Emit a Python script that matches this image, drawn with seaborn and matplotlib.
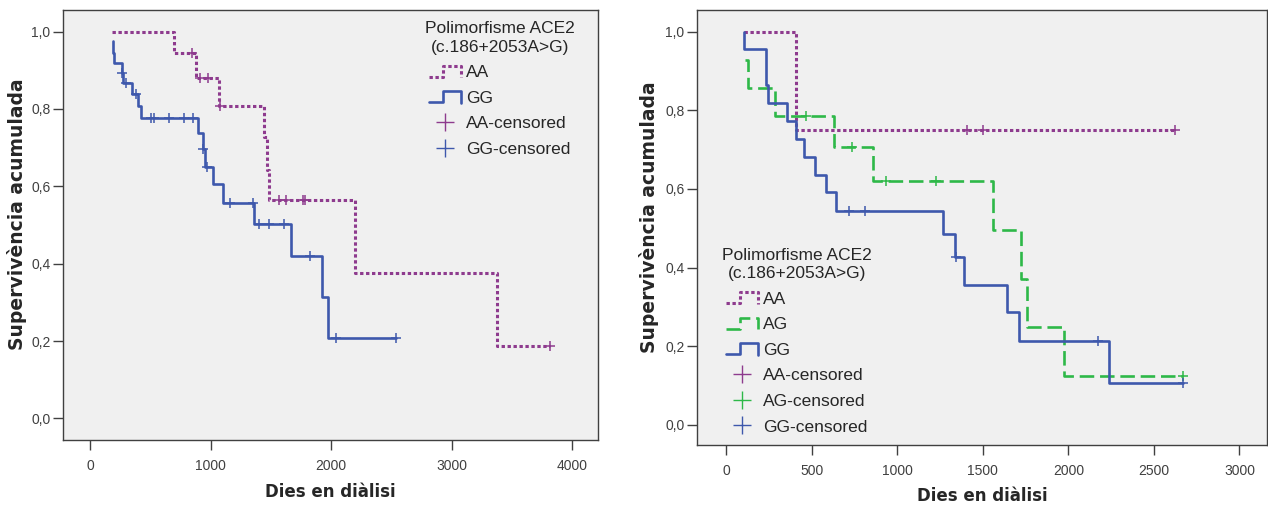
import numpy as np
import pandas as pd
import matplotlib
matplotlib.use("Agg")
import matplotlib.pyplot as plt
from matplotlib.lines import Line2D
from matplotlib.legend_handler import HandlerBase
from matplotlib.ticker import FuncFormatter
import seaborn as sns

# ---------------- data: Kaplan-Meier steps (time of step, survival after it) ----------------
# Left panel: ACE2 genotypes AA vs GG
left_aa_times = [177, 695, 878, 1064, 1438, 1466, 1485, 2194, 3374]
left_aa_surv = [1.0, 0.944, 0.881, 0.808, 0.728, 0.642, 0.565, 0.377, 0.188]
left_aa_censored = [842, 911, 980, 1075, 1568, 1626, 1762, 1784, 3818]

left_gg_times = [185, 190, 199, 260, 268, 343, 398, 418, 897, 934, 950, 1022,
                 1100, 1360, 1668, 1923, 1973]
left_gg_surv = [0.976, 0.946, 0.920, 0.894, 0.868, 0.840, 0.808, 0.777, 0.737,
                0.696, 0.651, 0.605, 0.558, 0.502, 0.420, 0.313, 0.207]
left_gg_censored = [265, 296, 376, 504, 531, 653, 781, 856, 939, 967, 1161,
                    1352, 1396, 1479, 1610, 1820, 2039, 2542]

# Right panel: ACE2 genotypes AA, AG, GG
right_aa_times = [102, 408]
right_aa_surv = [1.0, 0.750]
right_aa_censored = [1410, 1504, 2624]

right_ag_times = [112, 128, 286, 628, 856, 1557, 1722, 1761, 1976]
right_ag_surv = [0.929, 0.857, 0.786, 0.707, 0.619, 0.495, 0.371, 0.248, 0.124]
right_ag_censored = [465, 735, 932, 1228, 2669]

right_gg_times = [102, 105, 233, 243, 356, 408, 455, 521, 585, 642, 1267, 1335,
                  1391, 1644, 1713, 2238]
right_gg_surv = [1.0, 0.955, 0.864, 0.818, 0.773, 0.727, 0.682, 0.636, 0.591,
                 0.545, 0.486, 0.428, 0.356, 0.286, 0.214, 0.107]
right_gg_censored = [716, 810, 1343, 2172, 2669]

left_xticks = [0, 1000, 2000, 3000, 4000]
right_xticks = [0, 500, 1000, 1500, 2000, 2500, 3000]
yticks = [0.0, 0.2, 0.4, 0.6, 0.8, 1.0]

legend_title = "Polimorfisme ACE2\n(c.186+2053A>G)"
xlabel = "Dies en diàlisi"
ylabel = "Supervivència acumulada"

PURPLE = "#8E3B8E"
BLUE = "#3E58AC"
GREEN = "#2EB848"
DOTTED = (0, (1.1, 0.85))
DASHED = (0, (5.5, 2.2))


def km_table(times, surv, censored):
    end = max(max(censored), times[-1])
    return pd.DataFrame({"dies": list(times) + [end],
                         "supervivencia": list(surv) + [surv[-1]]})


def censored_table(times, surv, censored):
    idx = np.searchsorted(times, censored, side="right") - 1
    return pd.DataFrame({"dies": censored,
                         "supervivencia": np.asarray(surv)[idx]})


class HandlerStep(HandlerBase):
    """Small step glyph for the survival-curve legend entries."""

    def create_artists(self, legend, orig_handle, xdescent, ydescent,
                       width, height, fontsize, trans):
        x0, y0 = -xdescent, -ydescent
        xs = [x0, x0 + 0.45 * width, x0 + 0.45 * width, x0 + width, x0 + width]
        ys = [y0 + 0.05 * height, y0 + 0.05 * height, y0 + 0.95 * height,
              y0 + 0.95 * height, y0 + 0.0 * height]
        line = Line2D(xs, ys)
        self.update_prop(line, orig_handle, legend)
        line.set_transform(trans)
        return [line]


sns.set_style("ticks", {"axes.facecolor": "#F0F0F0",
                        "axes.edgecolor": "#404040",
                        "xtick.color": "#404040",
                        "ytick.color": "#404040"})
plt.rcParams["font.family"] = ["Liberation Sans", "DejaVu Sans"]

W, H = 1268, 509
fig = plt.figure(figsize=(W / 100, H / 100), dpi=100)
fig.patch.set_facecolor("white")

ax_l = fig.add_axes([63 / W, 1 - 440 / H, (598 - 63) / W, (440 - 10) / H])
ax_r = fig.add_axes([697 / W, 1 - 445 / H, (1267 - 697) / W, (445 - 10) / H])

tick_font = {"family": ["Liberation Sans Narrow", "Liberation Sans"], "size": 10}


def draw_group(ax, times, surv, censored, color, ls, lw):
    sns.lineplot(data=km_table(times, surv, censored), x="dies", y="supervivencia",
                 ax=ax, color=color, linestyle=ls, linewidth=lw,
                 drawstyle="steps-post", estimator=None, sort=False,
                 legend=False, zorder=2)
    sns.scatterplot(data=censored_table(times, surv, censored), x="dies",
                    y="supervivencia", ax=ax, color=color, marker="+", s=55,
                    linewidth=1.1, legend=False, zorder=3)


def style_axes(ax, xlim, ylim, xticks, ylab_xy, xlab_xy):
    ax.set_xlim(*xlim)
    ax.set_ylim(*ylim)
    ax.set_xticks(xticks)
    ax.set_yticks(yticks)
    ax.yaxis.set_major_formatter(FuncFormatter(lambda v, p: f"{v:.1f}".replace(".", ",")))
    ax.tick_params(axis="both", direction="out", length=7, width=1.0)
    ax.tick_params(axis="x", pad=7)
    ax.tick_params(axis="y", pad=2)
    for lab in ax.get_xticklabels() + ax.get_yticklabels():
        lab.set_fontfamily(tick_font["family"])
        lab.set_fontsize(tick_font["size"])
    for sp in ax.spines.values():
        sp.set_visible(True)
        sp.set_linewidth(1.0)
        sp.set_color("#404040")
    ax.set_xlabel(xlabel, fontsize=12, fontweight="bold", family="DejaVu Sans")
    ax.set_ylabel(ylabel, fontsize=13.5, fontweight="bold", family="DejaVu Sans")
    ax.yaxis.label.set_va("center")
    ax.xaxis.label.set_va("center")
    ax.yaxis.set_label_coords(*ylab_xy)
    ax.xaxis.set_label_coords(*xlab_xy)


# ---------------- left panel ----------------
draw_group(ax_l, left_aa_times, left_aa_surv, left_aa_censored, PURPLE, DOTTED, 2.2)
draw_group(ax_l, left_gg_times, left_gg_surv, left_gg_censored, BLUE, "-", 1.9)
style_axes(ax_l, (-228, 4216), (-0.056, 1.056), left_xticks,
           (-0.086, 0.526), (0.5, -0.121))

# ---------------- right panel ----------------
draw_group(ax_r, right_aa_times, right_aa_surv, right_aa_censored, PURPLE, DOTTED, 2.2)
draw_group(ax_r, right_ag_times, right_ag_surv, right_ag_censored, GREEN, DASHED, 1.9)
draw_group(ax_r, right_gg_times, right_gg_surv, right_gg_censored, BLUE, "-", 1.9)
style_axes(ax_r, (-170, 3161), (-0.051, 1.055), right_xticks,
           (-0.085, 0.524), (0.5, -0.117))


# ---------------- legends ----------------
def step_handle(color, ls, lw):
    return Line2D([], [], color=color, linestyle=ls, linewidth=lw)


def cens_handle(color):
    return Line2D([], [], color=color, marker="+", markersize=13,
                  markeredgewidth=1.0, linestyle="none")


def add_legend(ax, steps, censors, anchor):
    handles = [h for h, _ in steps] + [h for h, _ in censors]
    labels = [l for _, l in steps] + [l for _, l in censors]
    hmap = {h: HandlerStep() for h, _ in steps}
    leg = ax.legend(handles, labels, title=legend_title, handler_map=hmap,
                    loc="upper left", bbox_to_anchor=anchor,
                    bbox_transform=fig.transFigure, frameon=False,
                    fontsize=12.5, title_fontsize=12.5, borderpad=0,
                    borderaxespad=0, labelspacing=0.6, handlelength=1.85,
                    handletextpad=0.3, handleheight=0.7)
    leg.get_title().set_multialignment("center")
    leg.get_title().set_linespacing(1.3)
    return leg


add_legend(ax_l,
           [(step_handle(PURPLE, DOTTED, 2.2), "AA"), (step_handle(BLUE, "-", 1.9), "GG")],
           [(cens_handle(PURPLE), "AA-censored"), (cens_handle(BLUE), "GG-censored")],
           (425 / W, 1 - 21 / H))

add_legend(ax_r,
           [(step_handle(PURPLE, DOTTED, 2.2), "AA"), (step_handle(GREEN, DASHED, 1.9), "AG"),
            (step_handle(BLUE, "-", 1.9), "GG")],
           [(cens_handle(PURPLE), "AA-censored"), (cens_handle(GREEN), "AG-censored"),
            (cens_handle(BLUE), "GG-censored")],
           (722 / W, 1 - 247.5 / H))

fig.savefig("out.png", dpi=100, facecolor="white")
